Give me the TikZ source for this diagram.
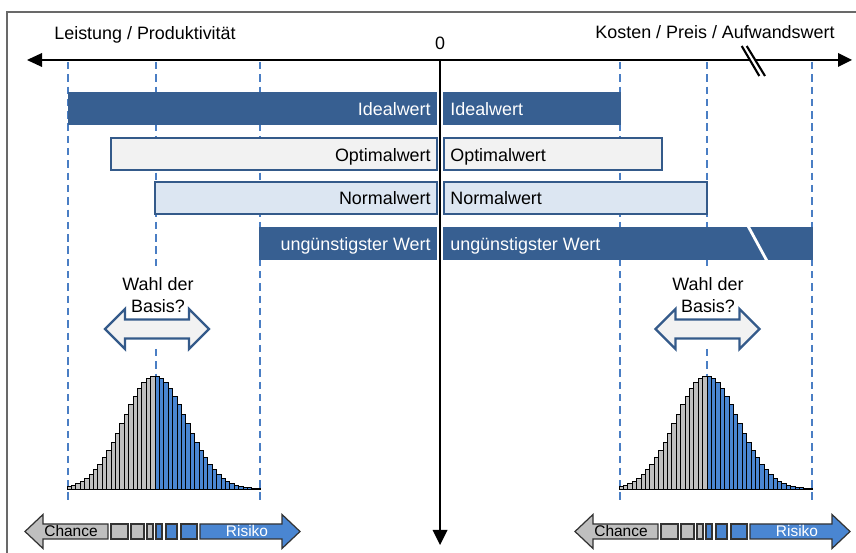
\documentclass[tikz,border=0pt]{standalone}
\usepackage{fontspec}
\setmainfont{Liberation Sans}

\definecolor{wertblau}{RGB}{55,95,145}
\definecolor{randblau}{RGB}{52,90,138}
\definecolor{hellgrau}{RGB}{242,242,242}
\definecolor{hellblau}{RGB}{220,230,242}
\definecolor{strichblau}{RGB}{74,126,196}
\definecolor{histblau}{RGB}{74,134,210}
\definecolor{histgrau}{RGB}{191,191,191}
\definecolor{rahmengrau}{RGB}{105,105,105}

\tikzset{
  grundtext/.style={font=\fontsize{10.2}{12.5}\selectfont, inner sep=0pt},
  kleintext/.style={font=\fontsize{8.8}{10}\selectfont, inner sep=0pt},
  hilfslinie/.style={strichblau, line width=1.6pt, dash pattern=on 4.2pt off 2.8pt},
  dunkelbalken/.style={fill=wertblau},
  optbalken/.style={fill=hellgrau, draw=randblau, line width=1.2pt},
  normbalken/.style={fill=hellblau, draw=randblau, line width=1.2pt},
  histbalken/.style={draw=black, line width=0.5pt},
  basispfeil/.style={fill=hellgrau, draw=randblau, line width=1.3pt, line join=miter},
  skala/.style={draw=black!80, line width=0.7pt},
  achse/.style={black, line width=1.5pt}
}

\begin{document}
\begin{tikzpicture}[x=0.02cm,y=-0.02cm]
\useasboundingbox (0,0) rectangle (856,553);
\draw [rahmengrau, line width=1.1pt] (7,553) -- (7,12) -- (856,12);
% Hilfslinien
\foreach \x in {68,260,620,812} \draw [hilfslinie] (\x,62) -- (\x,502);
\foreach \x in {156,707} {
  \draw [hilfslinie] (\x,62) -- (\x,270);
  \draw [hilfslinie] (\x,349) -- (\x,377);
}
% Balken
\fill [dunkelbalken] (68,92) rectangle (437,125);
\fill [dunkelbalken] (443,92) rectangle (621,125);
\draw [optbalken] (111,138) rectangle (437,170);
\draw [optbalken] (444,138) rectangle (662,170);
\draw [normbalken] (155,182) rectangle (437,214);
\draw [normbalken] (444,182) rectangle (707,214);
\fill [dunkelbalken] (259,227) rectangle (437,260);
\fill [dunkelbalken] (443,227) rectangle (813,260);
\draw [white, line width=1.6pt] (748,226) -- (767,261);
\node [grundtext, white, anchor=base east] (idealL) at (431,115.4) {Idealwert};
\node [grundtext, white, anchor=base west] (idealR) at (450,115.4) {Idealwert};
\node [grundtext, anchor=base east] (optL) at (431,161.5) {Optimalwert};
\node [grundtext, anchor=base west] (optR) at (450,161.5) {Optimalwert};
\node [grundtext, anchor=base east] (normL) at (431,205) {Normalwert};
\node [grundtext, anchor=base west] (normR) at (450,205) {Normalwert};
\node [grundtext, white, anchor=base east] (worstL) at (431,250.5) {ungünstigster Wert};
\node [grundtext, white, anchor=base west] (worstR) at (450,250.5) {ungünstigster Wert};
% Verteilungen
\foreach \m in {155,707} {
  \foreach \i in {0,...,19}
    \draw [histbalken, fill=histgrau] (\m-88+4.4*\i,489) rectangle ++(4.4,{-113*exp(-0.5*(88-4.4*(\i+0.5))^2/992.25)});
  \foreach \i in {0,...,23}
    \draw [histbalken, fill=histblau] (\m+4.4*\i,489) rectangle ++(4.4,{-113*exp(-0.5*(4.4*(\i+0.5))^2/992.25)});
}
\foreach \m/\t in {157/158,707.5/708} {
  \draw [basispfeil] (\m-52,329) -- (\m-32,309) -- (\m-32,319.5) -- (\m+32,319.5) -- (\m+32,309) -- (\m+52,329)
    -- (\m+32,349) -- (\m+32,338.5) -- (\m-32,338.5) -- (\m-32,349) -- cycle;
  \node [grundtext, align=center] (wahl\t) at (\t,295.5) {Wahl der\\Basis?};
}
\foreach \o in {0,550} {
  \draw [skala, fill=histgrau] (25+\o,531.5) -- (43+\o,514.5) -- (43+\o,524) -- (108+\o,524) -- (108+\o,539) -- (43+\o,539) -- (43+\o,548.5) -- cycle;
  \draw [skala, fill=histgrau] (111+\o,524) rectangle (128+\o,539);
  \draw [skala, fill=histgrau] (131+\o,524) rectangle (144+\o,539);
  \draw [skala, fill=histgrau] (147+\o,524) rectangle (153+\o,539);
  \draw [skala, fill=histblau] (156+\o,524) rectangle (162+\o,539);
  \draw [skala, fill=histblau] (166+\o,524) rectangle (177+\o,539);
  \draw [skala, fill=histblau] (181+\o,524) rectangle (197+\o,539);
  \draw [skala, fill=histblau] (200+\o,524) -- (282+\o,524) -- (282+\o,514.5) -- (300+\o,531.5) -- (282+\o,548.5) -- (282+\o,539) -- (200+\o,539) -- cycle;
  \node [kleintext, anchor=base] (chance\o) at (71+\o,536.5) {Chance};
  \node [kleintext, white, anchor=base] (risiko\o) at (247+\o,536.5) {Risiko};
}
% Achsen
\draw [achse] (42,60) -- (838,60);
\fill [black] (27,60) -- (42,53) -- (42,67) -- cycle;
\fill [black] (852,60) -- (838,53) -- (838,67) -- cycle;
\draw [achse] (440,60) -- (440,531);
\fill [black] (440,545) -- (432.5,530) -- (447.5,530) -- cycle;
\fill [white] (741.7,46) -- (746.7,46) -- (765,76) -- (759.3,76) -- cycle;
\draw [line width=1.2pt] (741.7,46) -- (759.3,76) (746.7,46) -- (765,76);
\node [grundtext, anchor=base] (leistung) at (145,39.5) {Leistung / Produktivität};
\node [grundtext, anchor=base] (kosten) at (715,39) {Kosten / Preis / Aufwandswert};
\node [grundtext, anchor=base] (null) at (440,50) {0};
\end{tikzpicture}
\end{document}
